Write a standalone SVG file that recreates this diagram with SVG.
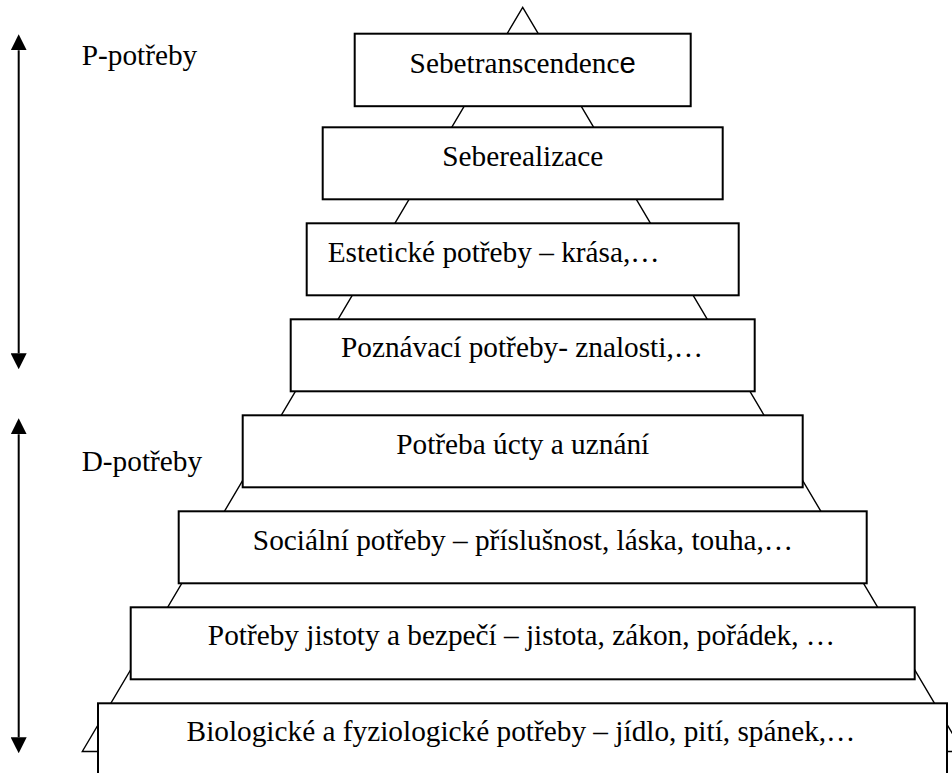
<svg xmlns="http://www.w3.org/2000/svg" width="952" height="773" viewBox="0 0 952 773">
<style>
  .box { fill: #ffffff; stroke: #000000; stroke-width: 2; }
  .lbl { font-family: 'Liberation Serif', 'Times New Roman', serif; font-size: 29.3px; fill: #000000; }
  .mid { text-anchor: middle; }
  .tri { fill: none; stroke: #000000; stroke-width: 1.4; }
  .arr { stroke: #000000; stroke-width: 2; fill: none; }
  .sans { font-family: 'Liberation Sans', Arial, sans-serif; }
</style>
<defs>
  <marker id="head" viewBox="0 0 16 16" refX="0" refY="8" markerWidth="16" markerHeight="16" markerUnits="userSpaceOnUse" orient="auto-start-reverse">
    <path d="M0,0 L16,8 L0,16 z" fill="#000000"/>
  </marker>
</defs>
<rect x="0" y="0" width="952" height="773" fill="#ffffff"/>

<g id="pyramid-outline">
  <polygon class="tri" points="522.7,7.3 82.3,751.5 963,751.5"/>
</g>

<g id="node-sebetranscendence">
  <rect class="box" x="354.7" y="33.7" width="336" height="72.5"/>
  <text class="lbl mid" x="522.7" y="73.3">Sebetranscendenc<tspan class="sans">e</tspan></text>
</g>
<g id="node-seberealizace">
  <rect class="box" x="322.7" y="127.3" width="400" height="72"/>
  <text class="lbl mid" x="522.7" y="166">Seberealizace</text>
</g>
<g id="node-esteticke">
  <rect class="box" x="306.7" y="223.3" width="432" height="72"/>
  <text class="lbl" x="327.7" y="261.7">Estetické potřeby – krása,…</text>
</g>
<g id="node-poznavaci">
  <rect class="box" x="290.7" y="319.3" width="464" height="72"/>
  <text class="lbl mid" x="522" y="357.3">Poznávací potřeby- znalosti,…</text>
</g>
<g id="node-ucta">
  <rect class="box" x="242.7" y="415.3" width="560" height="72"/>
  <text class="lbl mid" x="522.7" y="454">Potřeba úcty a uznání</text>
</g>
<g id="node-socialni">
  <rect class="box" x="178.7" y="511.3" width="688" height="72"/>
  <text class="lbl mid" x="523" y="550">Sociální potřeby – příslušnost, láska, touha,…</text>
</g>
<g id="node-jistota">
  <rect class="box" x="130.7" y="607.3" width="784" height="72"/>
  <text class="lbl mid" x="521.5" y="645">Potřeby jistoty a bezpečí – jistota, zákon, pořádek, …</text>
</g>
<g id="node-biologicke">
  <rect class="box" x="98" y="703.3" width="849" height="100"/>
  <text class="lbl mid" x="521" y="740.7">Biologické a fyziologické potřeby – jídlo, pití, spánek,…</text>
</g>

<g id="label-p">
  <text class="lbl" x="81.7" y="64.5">P-potřeby</text>
</g>
<g id="label-d">
  <text class="lbl" x="81.7" y="471">D-potřeby</text>
</g>

<g id="connectors">
  <line class="arr" x1="18.7" y1="50.3" x2="18.7" y2="353.3" marker-start="url(#head)" marker-end="url(#head)"/>
  <line class="arr" x1="18.7" y1="434.3" x2="18.7" y2="737.3" marker-start="url(#head)" marker-end="url(#head)"/>
</g>
</svg>
